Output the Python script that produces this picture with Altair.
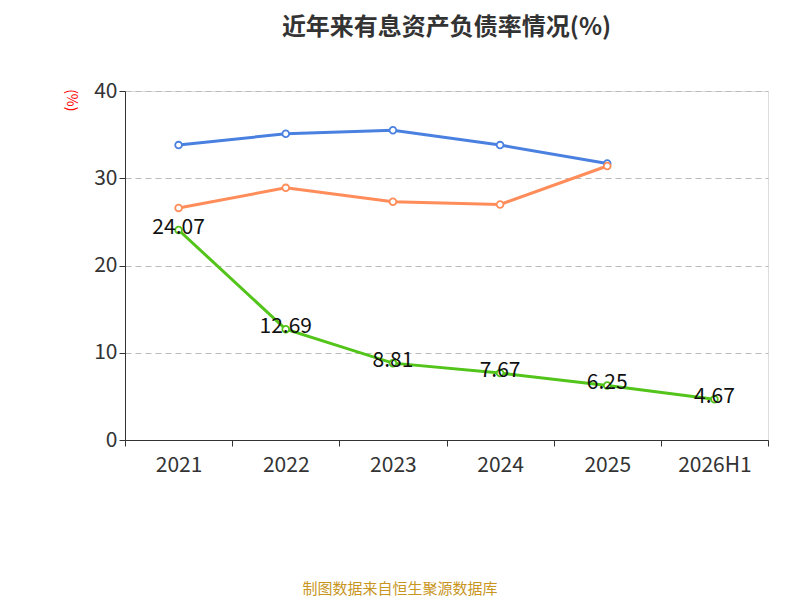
import pandas as pd
import altair as alt

years = ["2021", "2022", "2023", "2024", "2025", "2026H1"]
debt_ratio = [24.07, 12.69, 8.81, 7.67, 6.25, 4.67]
ind_mean = [33.8, 35.1, 35.5, 33.8, 31.7, None]
ind_median = [26.6, 28.9, 27.3, 27.0, 31.4, None]

SERIES = ["有息资产负债率", "行业均值", "行业中位数"]
COLORS = ["#52c41a", "#4a80e0", "#ff8c59"]
FONT = "Noto Sans CJK SC"

rows = []
for name, vals in zip(SERIES, [debt_ratio, ind_mean, ind_median]):
    for y, v in zip(years, vals):
        if v is not None:
            rows.append({"year": y, "value": v, "series": name})
df = pd.DataFrame(rows)

x = alt.X("year:N", sort=years, bandPosition=0.5, title=None,
          scale=alt.Scale(type="band", domain=years, paddingInner=0, paddingOuter=0),
          axis=alt.Axis(tickBand="extent", labelAngle=0, labelFontSize=21, labelColor="#333",
                        tickSize=6, labelPadding=8, domainColor="#333", tickColor="#333"))
y = alt.Y("value:Q", title="(%)", scale=alt.Scale(domain=[0, 40]),
          axis=alt.Axis(values=[0, 10, 20, 30, 40], labelFontSize=21, labelColor="#333",
                        grid=True, gridDash=[6, 4], gridColor="#bbb", domain=True,
                        domainColor="#333", tickColor="#333", tickSize=6,
                        titleColor="red", titleFontSize=14, titleFontWeight="normal",
                        titleAngle=90, titleAnchor="end", titleX=-62, titleY=20))
legend = alt.Legend(title=None, orient="none", direction="horizontal",
                    legendX=-30, legendY=432, labelFontSize=21,
                    labelColor="#333", symbolType="circle", symbolSize=380,
                    symbolFillColor="white", symbolStrokeWidth=2,
                    columnPadding=22, labelLimit=300)

lines = alt.Chart(df).mark_line(strokeWidth=3).encode(
    x=x, y=y, color=alt.Color("series:N", scale=alt.Scale(domain=SERIES, range=COLORS), legend=None))
points = alt.Chart(df).mark_point(filled=False, fill="white", fillOpacity=1, size=45,
                                  strokeWidth=1.8, opacity=1).encode(
    x=x, y=y, stroke=alt.Stroke("series:N", scale=alt.Scale(domain=SERIES, range=COLORS), legend=legend))
labels = alt.Chart(df[df.series == SERIES[0]]).mark_text(fontSize=21, color="#111", dy=-2, font=FONT).encode(
    x=x, y=y, text=alt.Text("value:Q", format=".2f"))
footer = alt.Chart(pd.DataFrame({"t": ["制图数据来自恒生聚源数据库"]})).mark_text(
    fontSize=15, color="#c8961e", font=FONT).encode(
    x=alt.value(275), y=alt.value(498), text="t:N")

chart = alt.layer(lines, points, labels, footer).properties(
    width=643, height=349, autosize="none",
    padding={"left": 117, "top": 83, "right": 24, "bottom": 160},
    title=alt.Title("近年来有息资产负债率情况(%)", fontSize=24, fontWeight="bold",
                    color="#333", offset=40, font=FONT),
).configure_view(stroke=None).configure(font=FONT)

chart.save("out.html", embed_options={"renderer": "svg", "actions": False})
